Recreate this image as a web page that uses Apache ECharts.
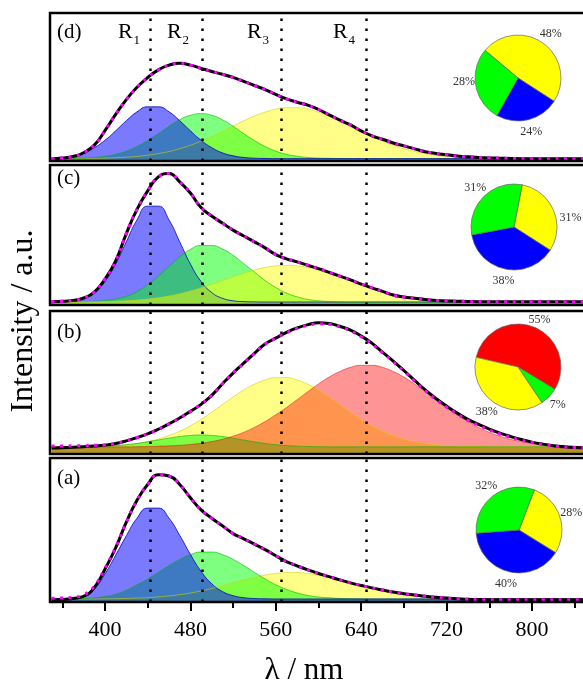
<!DOCTYPE html>
<html>
<head>
<meta charset="utf-8">
<script src="https://cdn.jsdelivr.net/npm/echarts@6/dist/echarts.min.js"></script>
<style>
  html, body { margin: 0; padding: 0; background: #fff; }
  #main { width: 583px; height: 684px; }
</style>
</head>
<body>
<div id="main"></div>
<script>
// wavelength grid (nm) shared by every curve
const wavelengths = [350, 360, 370, 380, 390, 400, 410, 420, 430, 440,
  450, 460, 470, 480, 490, 500, 510, 520, 530, 540,
  550, 560, 570, 580, 590, 600, 610, 620, 630, 640,
  650, 660, 670, 680, 690, 700, 710, 720, 730, 740,
  750, 760, 770, 780, 790, 800, 810, 820, 830, 840, 850];

const peakLines = [442, 491, 565, 645];
const peakSubs = ['1', '2', '3', '4'];
// bottom axis ticks: [first, last, step]
const majorTickRange = [400, 800, 80];
const minorTickRange = [360, 840, 40];

// panel (d)
const totalD = [1.6, 2.0, 3.0, 5.6, 10.7, 20.5, 31.5, 41.5, 49.8, 56.4,
  61.6, 64.8, 66.0, 64.8, 62.6, 60.5, 58.6, 56.5, 53.8, 51.0,
  48.3, 45.0, 42.0, 39.7, 37.7, 34.8, 31.2, 27.6, 24.4, 20.4,
  17.0, 14.7, 12.2, 10.2, 8.2, 6.3, 5.1, 4.3, 3.4, 2.8,
  2.4, 2.1, 1.9, 1.7, 1.6, 1.6, 1.6, 1.6, 1.6, 1.6, 1.6];
const fitD = totalD;
const blueD = [1.7, 2.1, 3.0, 5.5, 9.0, 14.0, 20.4, 27.2, 33.2, 36.6,
  36.6, 33.2, 27.2, 20.4, 14.0, 9.0, 5.5, 3.5, 2.4, 1.9,
  1.7, 1.6, 1.6, 1.6, 1.6, 1.6, 1.6, 1.6, 1.6, 1.6,
  1.6, 1.6, 1.6, 1.6, 1.6, 1.6, 1.6, 1.6, 1.6, 1.6,
  1.6, 1.6, 1.6, 1.6, 1.6, 1.6, 1.6, 1.6, 1.6, 1.6, 1.6];
const greenD = [1.6, 1.7, 1.8, 2.0, 2.4, 3.2, 4.5, 6.7, 9.8, 13.8,
  18.5, 23.5, 27.9, 30.9, 32.0, 30.9, 27.9, 23.5, 18.5, 13.8,
  9.8, 6.7, 4.5, 3.2, 2.4, 2.0, 1.8, 1.7, 1.6, 1.6,
  1.6, 1.6, 1.6, 1.6, 1.6, 1.6, 1.6, 1.6, 1.6, 1.6,
  1.6, 1.6, 1.6, 1.6, 1.6, 1.6, 1.6, 1.6, 1.6, 1.6, 1.6];
const yellowD = [1.6, 1.6, 1.6, 1.7, 1.8, 2.0, 2.2, 2.6, 3.1, 3.9,
  5.0, 6.4, 8.3, 10.6, 13.4, 16.5, 20.0, 23.6, 27.1, 30.4,
  33.0, 35.0, 36.0, 36.0, 35.0, 33.0, 30.4, 27.1, 23.6, 20.0,
  16.5, 13.4, 10.6, 8.3, 6.4, 5.0, 3.9, 3.1, 2.6, 2.2,
  2.0, 1.8, 1.7, 1.6, 1.6, 1.6, 1.6, 1.6, 1.6, 1.6, 1.6];
const pieValuesD = [48, 24, 28];
const pieKeysD = ['yellow', 'blue', 'green'];

// panel (c)
const totalC = [2.4, 2.6, 3.3, 5.0, 9.2, 18.5, 31.5, 51.0, 68.3, 81.5,
  91.5, 94.0, 88.0, 80.0, 69.6, 63.6, 58.5, 53.5, 49.3, 45.1,
  40.8, 36.0, 33.0, 30.8, 28.4, 26.0, 23.3, 20.6, 17.9, 14.9,
  12.2, 9.7, 7.1, 5.7, 4.8, 3.9, 3.3, 2.9, 2.7, 2.5,
  2.4, 2.4, 2.4, 2.4, 2.4, 2.4, 2.4, 2.4, 2.4, 2.4, 2.4];
const fitC = totalC;
const blueC = [2.2, 2.4, 3.0, 4.8, 8.9, 16.8, 29.3, 45.2, 60.8, 70.6,
  70.6, 60.8, 45.2, 29.3, 16.8, 8.9, 4.8, 3.0, 2.4, 2.2,
  2.1, 2.1, 2.1, 2.1, 2.1, 2.1, 2.1, 2.1, 2.1, 2.1,
  2.1, 2.1, 2.1, 2.1, 2.1, 2.1, 2.1, 2.1, 2.1, 2.1,
  2.1, 2.1, 2.1, 2.1, 2.1, 2.1, 2.1, 2.1, 2.1, 2.1, 2.1];
const greenC = [2.1, 2.1, 2.2, 2.3, 2.6, 3.2, 4.3, 6.2, 9.5, 14.5,
  20.5, 27.5, 34.3, 39.7, 42.5, 42.5, 40.0, 35.5, 29.5, 23.5,
  17.5, 12.5, 8.5, 5.8, 4.0, 3.0, 2.5, 2.2, 2.1, 2.1,
  2.1, 2.1, 2.1, 2.1, 2.1, 2.1, 2.1, 2.1, 2.1, 2.1,
  2.1, 2.1, 2.1, 2.1, 2.1, 2.1, 2.1, 2.1, 2.1, 2.1, 2.1];
const yellowC = [2.1, 2.1, 2.1, 2.2, 2.3, 2.5, 2.7, 3.0, 3.5, 4.2,
  5.2, 6.4, 8.0, 10.0, 12.2, 14.8, 17.5, 20.2, 22.7, 25.0,
  26.8, 27.9, 28.3, 27.9, 26.8, 25.0, 22.7, 20.2, 17.5, 14.8,
  12.2, 10.0, 8.0, 6.4, 5.2, 4.2, 3.5, 3.0, 2.7, 2.5,
  2.3, 2.2, 2.1, 2.1, 2.1, 2.1, 2.1, 2.1, 2.1, 2.1, 2.1];
const pieValuesC = [31, 38, 31];
const pieKeysC = ['yellow', 'blue', 'green'];

// panel (b)
const totalB = [4.2, 4.4, 4.7, 5.1, 5.6, 6.2, 7.4, 9.2, 11.5, 14.1,
  17.3, 21.1, 25.2, 29.8, 34.7, 41.0, 49.0, 56.6, 63.5, 70.4,
  76.9, 81.0, 85.0, 88.2, 90.4, 91.7, 91.3, 89.3, 86.6, 82.5,
  77.5, 71.2, 65.0, 58.4, 51.5, 44.8, 38.8, 33.5, 28.6, 24.2,
  20.7, 17.4, 14.6, 12.2, 10.1, 8.3, 6.9, 5.8, 5.0, 4.5, 4.3];
const fitB = [5.6, 5.6, 5.7, 5.8, 6.1, 6.5, 7.4, 9.2, 11.5, 14.1,
  17.3, 21.1, 25.2, 29.8, 34.7, 41.0, 49.0, 56.6, 63.5, 70.4,
  76.9, 81.0, 84.8, 87.8, 89.9, 91.0, 90.7, 88.9, 86.2, 82.0,
  77.0, 70.8, 64.6, 58.0, 51.0, 44.3, 38.2, 32.9, 28.0, 23.6,
  20.0, 16.8, 14.0, 11.7, 9.7, 8.0, 6.7, 5.7, 5.0, 4.6, 4.5];
const yellowB = [5.0, 5.0, 5.1, 5.2, 5.3, 5.5, 5.9, 6.5, 7.4, 8.7,
  10.5, 12.9, 15.9, 19.7, 24.2, 29.2, 34.5, 39.8, 44.7, 48.8,
  51.8, 53.4, 53.4, 51.8, 48.8, 44.7, 39.8, 34.5, 29.2, 24.2,
  19.7, 15.9, 12.9, 10.5, 8.7, 7.4, 6.5, 5.9, 5.5, 5.3,
  5.2, 5.1, 5.0, 5.0, 5.0, 5.0, 5.0, 5.0, 5.0, 5.0, 5.0];
const greenB = [5.0, 5.0, 5.0, 5.1, 5.3, 5.5, 5.9, 6.5, 7.4, 8.5,
  9.8, 11.1, 12.2, 13.0, 13.3, 13.0, 12.2, 11.1, 9.8, 8.5,
  7.4, 6.5, 5.9, 5.5, 5.3, 5.1, 5.0, 5.0, 5.0, 5.0,
  5.0, 5.0, 5.0, 5.0, 5.0, 5.0, 5.0, 5.0, 5.0, 5.0,
  5.0, 5.0, 5.0, 5.0, 5.0, 5.0, 5.0, 5.0, 5.0, 5.0, 5.0];
const redB = [5.0, 5.0, 5.0, 5.0, 5.0, 5.0, 5.0, 5.0, 5.1, 5.2,
  5.4, 5.7, 6.1, 6.7, 7.5, 8.7, 10.3, 12.5, 15.2, 18.6,
  22.7, 27.4, 32.5, 38.0, 43.6, 49.0, 53.8, 57.7, 60.6, 62.0,
  62.0, 60.6, 57.7, 53.8, 49.0, 43.6, 38.0, 32.5, 27.4, 22.7,
  18.6, 15.2, 12.5, 10.3, 8.7, 7.5, 6.7, 6.1, 5.7, 5.4, 5.2];
const pieValuesB = [55, 7, 38];
const pieKeysB = ['red', 'green', 'yellow'];

// panel (a)
const totalA = [1.4, 1.8, 2.5, 4.0, 10.0, 22.8, 37.6, 55.4, 70.6, 81.6,
  88.4, 87.5, 81.6, 72.4, 64.0, 58.2, 52.9, 47.5, 43.9, 40.2,
  36.4, 32.1, 28.1, 25.1, 22.3, 19.8, 17.6, 15.4, 13.3, 11.5,
  9.8, 8.3, 6.9, 5.8, 4.9, 4.0, 3.3, 2.7, 2.2, 1.9,
  1.7, 1.6, 1.6, 1.6, 1.6, 1.6, 1.6, 1.6, 1.6, 1.6, 1.6];
const fitA = [2.6, 2.8, 3.3, 5.0, 11.0, 23.5, 38.0, 55.4, 70.6, 81.6,
  88.4, 87.5, 81.6, 72.4, 64.0, 58.2, 52.9, 47.5, 43.9, 40.2,
  36.4, 32.1, 28.1, 25.1, 22.3, 19.8, 17.6, 15.4, 13.3, 11.5,
  9.8, 8.3, 6.9, 5.8, 4.9, 4.0, 3.3, 2.7, 2.2, 1.9,
  1.7, 1.6, 1.6, 1.6, 1.6, 1.6, 1.6, 1.6, 1.6, 1.6, 1.6];
const blueA = [2.1, 2.2, 2.5, 3.6, 9.0, 19.5, 32.5, 46.0, 58.2, 65.2,
  65.2, 58.2, 46.3, 33.1, 21.3, 12.7, 7.3, 4.4, 3.0, 2.4,
  2.2, 2.1, 2.1, 2.1, 2.1, 2.1, 2.1, 2.1, 2.1, 2.1,
  2.1, 2.1, 2.1, 2.1, 2.1, 2.1, 2.1, 2.1, 2.1, 2.1,
  2.1, 2.1, 2.1, 2.1, 2.1, 2.1, 2.1, 2.1, 2.1, 2.1, 2.1];
const greenA = [2.1, 2.1, 2.2, 2.4, 2.9, 3.8, 5.4, 8.2, 12.0, 16.0,
  20.6, 25.3, 29.6, 32.9, 34.7, 34.7, 32.9, 29.6, 25.3, 20.6,
  16.0, 12.0, 8.8, 6.3, 4.6, 3.5, 2.9, 2.5, 2.3, 2.2,
  2.1, 2.1, 2.1, 2.1, 2.1, 2.1, 2.1, 2.1, 2.1, 2.1,
  2.1, 2.1, 2.1, 2.1, 2.1, 2.1, 2.1, 2.1, 2.1, 2.1, 2.1];
const yellowA = [2.1, 2.1, 2.1, 2.1, 2.1, 2.2, 2.3, 2.45, 2.7, 3.0,
  3.5, 4.2, 5.1, 6.2, 7.7, 9.4, 11.2, 13.3, 15.3, 17.1,
  18.7, 19.8, 20.4, 20.4, 19.8, 18.7, 17.1, 15.3, 13.3, 11.2,
  9.4, 7.7, 6.2, 5.1, 4.2, 3.5, 3.0, 2.7, 2.45, 2.3,
  2.2, 2.1, 2.1, 2.1, 2.1, 2.1, 2.1, 2.1, 2.1, 2.1, 2.1];
const pieValuesA = [28, 40, 32];
const pieKeysA = ['yellow', 'blue', 'green'];

const serif = '"Liberation Serif", "Times New Roman", serif';
const fillColors = {
  blue: 'rgba(0,0,255,0.52)', green: 'rgba(0,255,0,0.5)',
  yellow: 'rgba(255,255,0,0.47)', red: 'rgba(255,0,0,0.42)'
};
const edgeColors = {
  blue: 'rgba(0,0,190,0.8)', green: 'rgba(0,180,0,0.6)',
  yellow: 'rgba(210,210,0,0.6)', red: 'rgba(220,0,0,0.45)'
};
const pieColors = { blue: '#0000ff', green: '#00ff00', yellow: '#ffff00', red: '#ff0000' };

// shared x scale of the four panels (plot runs off the right edge, as in the figure)
const xMin = 348.5, xMax = 847.8, plotLeft = 50, pxPerNm = 1.0675;
const plotWidth = (xMax - xMin) * pxPerNm;

// panels from top to bottom; fills listed in drawing order
const panels = [
  { name: '(d)', top: 13, height: 148, labelY: 32,
    parts: [['yellow', yellowD], ['green', greenD], ['blue', blueD]],
    total: totalD, fit: fitD, pie: pieValuesD, pieKeys: pieKeysD, start: 140, center: [518, 78],
    nudge: [[0, 0], [0, 0], [0, -6]] },
  { name: '(c)', top: 165, height: 140, labelY: 178,
    parts: [['blue', blueC], ['green', greenC], ['yellow', yellowC]],
    total: totalC, fit: fitC, pie: pieValuesC, pieKeys: pieKeysC, start: 79, center: [514, 227],
    nudge: [[6, 13], [0, 0], [0, 0]] },
  { name: '(b)', top: 311, height: 143, labelY: 332,
    parts: [['yellow', yellowB], ['green', greenB], ['red', redB]],
    total: totalB, fit: fitB, pie: pieValuesB, pieKeys: pieKeysB, start: 167, center: [518, 367],
    nudge: [[1, 4], [0, 0], [0, 0]] },
  { name: '(a)', top: 458, height: 144, labelY: 478,
    parts: [['yellow', yellowA], ['green', greenA], ['blue', blueA]],
    total: totalA, fit: fitA, pie: pieValuesA, pieKeys: pieKeysA, start: 69, center: [519, 530],
    nudge: [[0, 0], [0, 0], [0, 0]] }
];

const toPairs = arr => wavelengths.map((w, k) => [w, arr[k]]);

const grids = [], xAxes = [], yAxes = [], series = [], graphics = [];

panels.forEach((p, i) => {
  grids.push({ left: plotLeft, top: p.top, width: plotWidth, height: p.height,
    show: false, outerBoundsMode: 'none' });
  xAxes.push({
    type: 'value', gridIndex: i, min: xMin, max: xMax,
    axisLine: { show: false }, axisTick: { show: false },
    axisLabel: { show: false }, splitLine: { show: false }
  });
  yAxes.push({ type: 'value', gridIndex: i, min: 0, max: 100, show: false });

  p.parts.forEach(([key, arr]) => {
    series.push({
      type: 'line', xAxisIndex: i, yAxisIndex: i, data: toPairs(arr),
      smooth: 0.5, symbol: 'none', silent: true, z: 2,
      lineStyle: { width: 1, color: edgeColors[key] },
      areaStyle: { color: fillColors[key], opacity: 1 }
    });
  });

  series.push({
    type: 'line', xAxisIndex: i, yAxisIndex: i, data: toPairs(p.total),
    smooth: 0.5, symbol: 'none', silent: true, z: 3,
    lineStyle: { width: 3, color: '#000' },
    markLine: {
      silent: true, symbol: ['none', 'none'], label: { show: false },
      lineStyle: { color: '#000', width: 2.5, type: [2.5, 7.5] },
      data: peakLines.map(v => ({ xAxis: v }))
    }
  });
  series.push({
    type: 'line', xAxisIndex: i, yAxisIndex: i, data: toPairs(p.fit),
    smooth: 0.5, symbol: 'none', silent: true, z: 4,
    lineStyle: { width: 3, color: '#ff00ff', type: [3, 5.5] }
  });

  const pieData = p.pie.map((v, k) => ({
    value: v, name: p.pieKeys[k], itemStyle: { color: pieColors[p.pieKeys[k]] }
  }));
  series.push({
    type: 'pie', center: p.center, radius: 43, startAngle: p.start, clockwise: true,
    silent: true, animation: false, label: { show: false }, labelLine: { show: false },
    itemStyle: { borderColor: '#666', borderWidth: 0.7 },
    data: pieData
  });
  // invisible wider ring only used to centre the percentage labels
  series.push({
    type: 'pie', center: p.center, radius: [0, 104], startAngle: p.start, clockwise: true,
    silent: true, animation: false, avoidLabelOverlap: false, z: 5,
    itemStyle: { color: 'rgba(0,0,0,0)', borderWidth: 0 },
    label: { show: true, position: 'inside', formatter: '{c}%', color: '#333',
      fontSize: 12, fontFamily: serif },
    labelLine: { show: false },
    labelLayout: params => ({ dx: p.nudge[params.dataIndex][0], dy: p.nudge[params.dataIndex][1] }),
    data: p.pie.map((v, k) => ({ value: v, name: p.pieKeys[k] }))
  });

  graphics.push({
    type: 'rect', silent: true, z: 100,
    shape: { x: plotLeft, y: p.top, width: 560, height: p.height },
    style: { fill: 'none', stroke: '#000', lineWidth: 2.5 }
  });
  graphics.push({
    type: 'text', x: 57, y: p.labelY, z: 100,
    style: { text: p.name, fontSize: 21, fontFamily: serif, fill: '#000', verticalAlign: 'middle' }
  });
});

// bottom axis ticks: extra grids laid over panel (a) whose left edge sits on
// the first tick, so that min is a multiple of the interval
const bottom = panels[3];
[[minorTickRange, 6, false], [majorTickRange, 9, true]].forEach(([range, len, withLabels]) => {
  const g = grids.length;
  grids.push({
    left: plotLeft + (range[0] - xMin) * pxPerNm, top: bottom.top,
    width: (range[1] - range[0]) * pxPerNm, height: bottom.height,
    show: false, outerBoundsMode: 'none'
  });
  xAxes.push({
    type: 'value', gridIndex: g, min: range[0], max: range[1], interval: range[2],
    axisLine: { show: false }, splitLine: { show: false },
    axisTick: { show: true, length: len, lineStyle: { color: '#000', width: 2 } },
    axisLabel: { show: withLabels, margin: 17, fontSize: 22, fontFamily: serif, color: '#000',
      showMinLabel: true, showMaxLabel: true }
  });
  yAxes.push({ type: 'value', gridIndex: g, min: 0, max: 100, show: false });
});

// R1..R4 region labels
const rLabelX = [118, 167, 247, 333];
peakSubs.forEach((s, k) => {
  graphics.push({
    type: 'text', x: rLabelX[k], y: 32.6, z: 100,
    style: { text: 'R', fontSize: 22, fontFamily: serif, fill: '#000', verticalAlign: 'middle' }
  });
  graphics.push({
    type: 'text', x: rLabelX[k] + 15.5, y: 40.6, z: 100,
    style: { text: s, fontSize: 13, fontFamily: serif, fill: '#000', verticalAlign: 'middle' }
  });
});

graphics.push({
  type: 'text', x: 24, y: 321, rotation: Math.PI / 2, z: 100,
  style: { text: 'Intensity / a.u.', fontSize: 32, fontFamily: serif, fill: '#000',
    align: 'center', verticalAlign: 'middle' }
});
graphics.push({
  type: 'text', x: 304, y: 671, z: 100,
  style: { text: 'λ / nm', fontSize: 31, fontFamily: serif, fill: '#000',
    align: 'center', verticalAlign: 'middle' }
});

const chart = echarts.init(document.getElementById('main'));
chart.setOption({
  animation: false,
  backgroundColor: '#fff',
  grid: grids,
  xAxis: xAxes,
  yAxis: yAxes,
  series: series,
  graphic: graphics
});
</script>
</body>
</html>
